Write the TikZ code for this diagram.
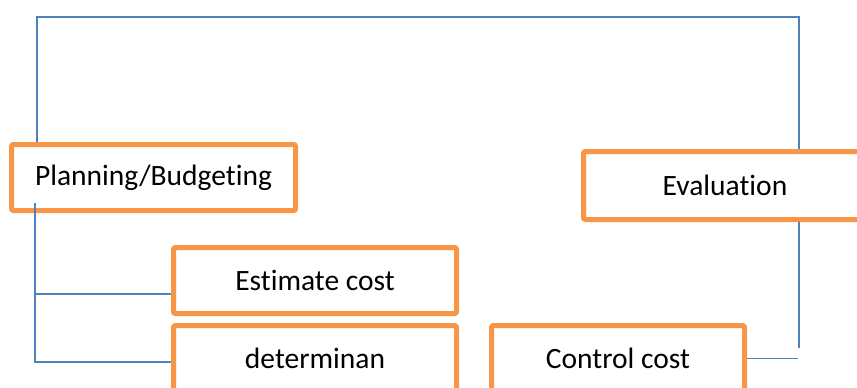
\documentclass[tikz,border=0pt]{standalone}
\usepackage{fontspec}
\setmainfont[Ligatures=NoCommon]{Carlito}
\definecolor{boxorange}{HTML}{F79646}
\definecolor{linkblue}{HTML}{4F81BD}
\begin{document}
\begin{tikzpicture}[x=1pt,y=-1pt,
  stage/.style={draw=boxorange,line width=5pt,rounded corners=2pt,fill=white,
    minimum height=66pt,inner sep=0pt,
    font=\fontsize{29.5}{34}\selectfont},
  link/.style={draw=linkblue,line width=1.4pt}]
\clip (0,0) rectangle (857,388);
\useasboundingbox (0,0) rectangle (857,388);

% stages
\node[stage,minimum width=284pt] (plan) at (153.5,177.5) {Planning/Budgeting};
\node[stage,minimum width=283pt,minimum height=68pt] (eval) at (725,185.5) {Evaluation};
\node[stage,minimum width=283pt] (est) at (315,280.5) {Estimate cost};
\node[stage,minimum width=283pt] (det) at (315,358.5) {determinan};
\node[stage,minimum width=253pt] (ctrl) at (618,358.5) {Control cost};

% feedback loop over the top
\draw[link] ([xshift=28pt]plan.north west) |- (799,17) -- ([xshift=218pt]eval.north west);

% planning branches to its sub-steps
\draw[link] ([xshift=26pt,yshift=10pt]plan.south west) |- ([yshift=-3.5pt]det.west);
\draw[link] (35,294) -- (est.west |- 0,294);

% control back up to evaluation
\draw[link] ([xshift=218pt]eval.south west) -- ++(0,126);
\draw[link] (ctrl.east) -- ++(51,0);
\end{tikzpicture}
\end{document}
